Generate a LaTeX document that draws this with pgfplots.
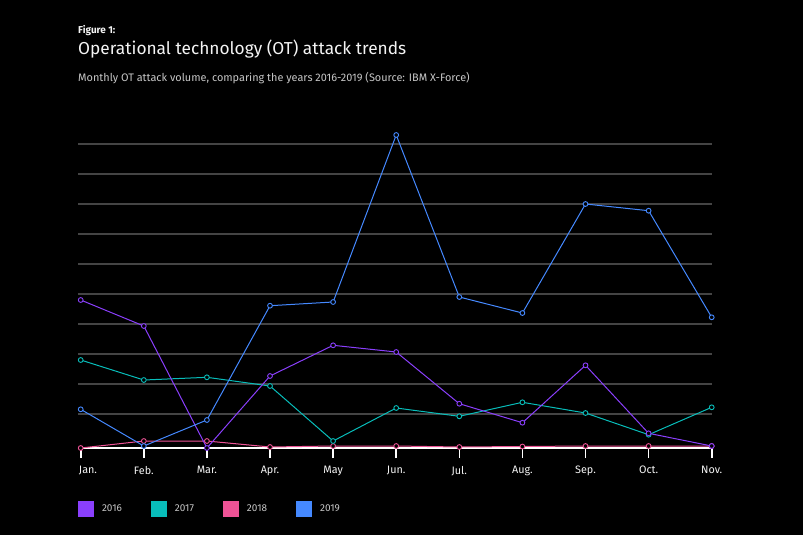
\documentclass[border=0pt]{standalone}
\usepackage{pgfplots}
\pgfplotsset{compat=1.18}
\usepackage{fontspec}
\setmainfont{Fira Sans}
\definecolor{cA}{HTML}{8A3FFC}
\definecolor{cB}{HTML}{08BDBA}
\definecolor{cC}{HTML}{EE5396}
\definecolor{cD}{HTML}{4589FF}
\definecolor{gridc}{HTML}{444444}
\definecolor{txt}{HTML}{F4F4F4}
\definecolor{subt}{HTML}{C6C6C6}
\begin{document}
\begin{tikzpicture}[x=1bp,y=1bp]
\fill[black] (0,0) rectangle (803,-535);
\node[anchor=base west,inner sep=0pt,text=txt] at (78,-33.3) {\fontsize{10bp}{12bp}\selectfont\bfseries Figure 1:};
\node[anchor=base west,inner sep=0pt,text=txt] at (78,-55) {\fontsize{17.3bp}{20bp}\selectfont Operational technology (OT) attack trends};
\node[anchor=base west,inner sep=0pt,text=subt] at (78,-81.5) {\fontsize{10.9bp}{13bp}\selectfont Monthly OT attack volume, comparing the years 2016-2019 (Source: IBM X-Force)};
\begin{axis}[
  at={(78bp,-448bp)}, anchor=south west,
  scale only axis, width=633.7bp, height=320bp,
  xmin=-0.043, xmax=10, ymin=0, ymax=320,
  clip=false,
  axis line style={draw=none},
  ytick={34,64,94,124,154,184,214,244,274,304},
  yticklabels={},
  ymajorgrids,
  major grid style={gridc, line width=1.1bp},
  ytick style={draw=none},
  xtick={0,...,10},
  xticklabels={\hspace{14.6bp}Jan.,Feb.,Mar.,Apr.,May,Jun.,Jul.,Aug.,Sep.,Oct.,Nov.\hspace{12bp}},
  xtick pos=bottom, tick align=outside, major tick length=10bp,
  xtick style={draw=white, line width=1.6bp},
  xticklabel style={text=txt, font=\fontsize{10.8bp}{13bp}\selectfont, inner sep=0pt, yshift=-8bp},
  every axis plot/.append style={line width=1bp, mark=*, mark size=2.4bp, mark options={fill=black, line width=0.9bp}},
  legend columns=4,
  legend style={at={(0,-0.1906)}, anchor=west, draw=none, fill=none, inner sep=0pt, outer sep=0pt,
    text=subt, font=\fontsize{10bp}{12bp}\selectfont,
    nodes={inner sep=0pt},
    /tikz/every odd column/.append style={column sep=8bp},
    /tikz/every even column/.append style={column sep=29bp}},
]
\draw[white, line width=1.5bp] (axis cs:0,0) -- (axis cs:10,0);
\addlegendimage{legend image code/.code={\fill[cA] (0bp,-7.5bp) rectangle (15bp,7.5bp);}}
\addlegendentry{2016}
\addlegendimage{legend image code/.code={\fill[cB] (0bp,-7.5bp) rectangle (15bp,7.5bp);}}
\addlegendentry{2017}
\addlegendimage{legend image code/.code={\fill[cC] (0bp,-7.5bp) rectangle (15bp,7.5bp);}}
\addlegendentry{2018}
\addlegendimage{legend image code/.code={\fill[cD] (0bp,-7.5bp) rectangle (15bp,7.5bp);}}
\addlegendentry{2019}
\addplot[cC, forget plot] coordinates {(0,0) (1,7) (2,7) (3,1) (4,2) (5,2) (6,1) (7,1.5) (8,2) (9,2) (10,2)};
\addplot[cB, forget plot] coordinates {(0,88) (1,68) (2,70.7) (3,62) (4,7) (5,40) (6,31.7) (7,45.7) (8,35) (9,13.3) (10,40.7)};
\addplot[cA, forget plot] coordinates {(0,148) (1,122) (2,0) (3,72) (4,102.7) (5,96) (6,44.3) (7,25.3) (8,82.7) (9,14.7) (10,2)};
\addplot[cD, forget plot] coordinates {(0,38.7) (1,2) (2,28) (3,142.3) (4,146) (5,313) (6,151) (7,135) (8,244) (9,237.3) (10,130.7)};
\end{axis}
\pgfresetboundingbox
\useasboundingbox (0,0) rectangle (803,-535);
\end{tikzpicture}
\end{document}
